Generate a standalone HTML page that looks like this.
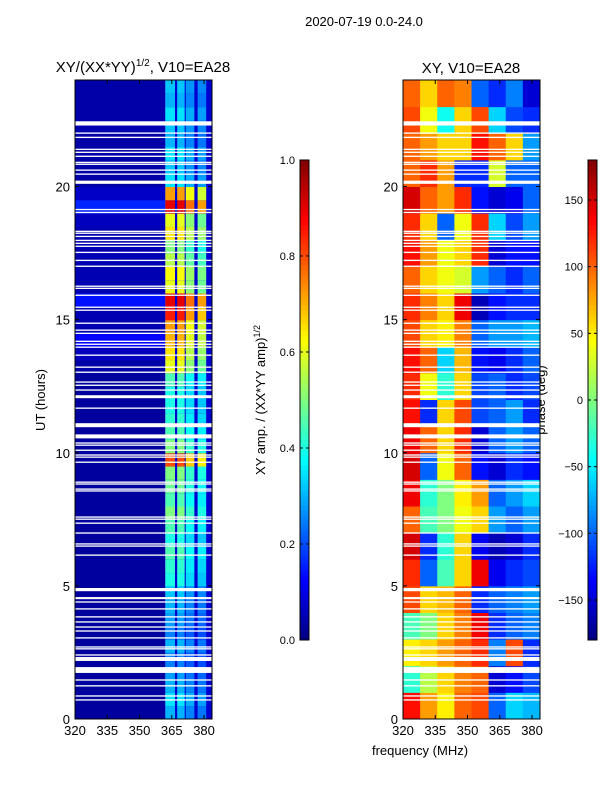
<!DOCTYPE html>
<html><head><meta charset="utf-8"><style>
body{margin:0;background:#fff;}
svg{display:block;font-family:"Liberation Sans","DejaVu Sans",sans-serif;}
</style></head><body>
<svg id="fig" width="600" height="800" viewBox="0 0 600 800" xmlns="http://www.w3.org/2000/svg">
<text x="364" y="26" font-size="13" text-anchor="middle">2020-07-19 0.0-24.0</text>
<text x="143" y="72" font-size="15" text-anchor="middle">XY/(XX*YY)<tspan font-size="10" dy="-6">1/2</tspan><tspan dy="6">, V10=EA28</tspan></text>
<text x="471" y="73" font-size="15" text-anchor="middle">XY, V10=EA28</text>
<text transform="translate(45,400) rotate(-90)" font-size="13" text-anchor="middle">UT (hours)</text>
<text x="420" y="755" font-size="13" text-anchor="middle">frequency (MHz)</text>
<text transform="translate(265,400) rotate(-90)" font-size="13" text-anchor="middle">XY amp. / (XX*YY amp)<tspan font-size="9" dy="-5">1/2</tspan></text>
<text transform="translate(545,400) rotate(-90)" font-size="13" text-anchor="middle">phase (deg)</text>
<g id="gL"></g><g id="gR"></g><g id="gC"></g>
</svg>
<script>
const NS="http://www.w3.org/2000/svg";
// ---- data ----
const yTicks=[0,5,10,15,20];
const xTicks=[320,335,350,365,380];
const ampTicks=[0.0,0.2,0.4,0.6,0.8,1.0];
const phaseTicks=[-150,-100,-50,0,50,100,150];
// sub-band frequency edges (MHz) for amplitude panel
const bandStart=[362,367.5,371.5,377];
const bandEnd=[366.5,371,375.5,381];
const bandScale=[1.0,1.0,0.85,0.8];
// half-hour band amplitudes, index 0 = 0.0-0.5 h
const ampRow=[0.3,0.35,0.3,0.28,0.25,0.3,0.25,0.28,0.3,0.32,0.4,0.42,0.45,0.4,0.45,0.5,0.45,0.48,0.5,0.8,0.5,0.45,0.42,0.4,0.4,0.45,0.6,0.65,0.7,0.72,0.85,0.9,0.6,0.62,0.55,0.5,0.65,0.6,0.9,0.72,0.35,0.32,0.35,0.3,0.32,0.35,0.3,0.32];
// half-hour amplitudes for low-frequency part (320-362 MHz)
const leftRow=[0.03,0.03,0.03,0.03,0.03,0.03,0.03,0.03,0.03,0.03,0.03,0.03,0.03,0.03,0.03,0.03,0.03,0.03,0.03,0.03,0.03,0.03,0.03,0.03,0.03,0.03,0.04,0.06,0.12,0.05,0.05,0.14,0.05,0.05,0.05,0.05,0.05,0.06,0.16,0.07,0.04,0.04,0.04,0.04,0.05,0.04,0.04,0.04];
// hourly phase (deg), 8 frequency slices, index 0 = 0-1 h
const phaseGrid=[
[130,80,50,100,110,-100,-60,-70],
[-30,20,60,90,100,-150,-130,-110],
[50,60,80,100,120,-90,110,-120],
[-20,0,60,90,140,-120,-100,-90],
[110,60,70,100,-120,-100,-90,-80],
[120,-100,-20,60,140,-140,-120,-110],
[150,-120,-30,60,-140,-160,-150,-120],
[100,-20,0,40,60,-80,-100,-80],
[140,-30,0,50,80,-100,-80,-60],
[150,-100,40,100,-130,-150,-120,-130],
[140,100,60,120,-150,-100,-80,-100],
[130,-120,60,110,-110,-100,-80,-120],
[120,40,-30,60,-110,-100,-120,-110],
[130,100,-60,70,-130,-140,-120,-100],
[110,60,50,90,-100,-80,-80,-70],
[120,90,60,140,-160,-130,-120,-120],
[100,60,40,30,-80,-100,-120,-100],
[130,80,40,60,120,-150,-130,-130],
[120,60,-100,40,120,-60,-110,-80],
[150,100,80,120,-130,-150,-140,-100],
[100,120,80,-120,-120,30,-100,-100],
[100,80,60,60,130,100,60,-80],
[110,40,-40,60,110,-60,-110,-120],
[100,60,100,90,-100,-120,-90,-150]];
// flagged time ranges (hours)
const gapStart=[22.29,21.98,21.82,21.37,21.26,21.11,20.88,20.81,20.59,20.44,20.10,19.11,19.0,18.29,18.22,18.1,17.95,17.84,17.73,17.5,17.2,16.98,16.23,16.15,15.89,15.44,15.33,14.84,14.58,14.46,14.16,14.05,13.94,13.64,13.19,13.0,12.63,12.51,12.33,12.05,11.65,10.96,10.54,10.34,10.26,10.07,9.89,9.81,9.62,8.87,8.8,8.61,8.54,7.56,7.48,7.33,6.96,6.55,6.47,6.13,4.8,4.5,4.37,4.11,3.81,3.62,3.43,3.28,3.02,2.68,2.61,2.38,2.18,1.73,1.44,1.22,0.84,0.69];
const gapEnd=[22.45,22.03,21.87,21.42,21.31,21.16,20.93,20.86,20.64,20.49,20.22,19.16,19.05,18.34,18.27,18.15,18.0,17.89,17.78,17.55,17.25,17.03,16.28,16.2,15.94,15.49,15.38,14.89,14.63,14.51,14.21,14.1,13.99,13.69,13.24,13.05,12.68,12.56,12.38,12.16,11.7,11.11,10.69,10.39,10.31,10.12,9.94,9.86,9.67,8.92,8.85,8.66,8.59,7.61,7.53,7.38,7.01,6.6,6.52,6.18,4.92,4.58,4.42,4.16,3.86,3.67,3.48,3.33,3.07,2.73,2.66,2.43,2.33,1.95,1.49,1.27,0.89,0.74];
// ---- helpers ----
function jet(v){v=Math.max(0,Math.min(1,v));
 const r=Math.max(0,Math.min(1,1.5-Math.abs(4*v-3)));
 const g=Math.max(0,Math.min(1,1.5-Math.abs(4*v-2)));
 const b=Math.max(0,Math.min(1,1.5-Math.abs(4*v-1)));
 return `rgb(${Math.round(r*255)},${Math.round(g*255)},${Math.round(b*255)})`;}
function el(tag,attrs,parent){const e=document.createElementNS(NS,tag);for(const k in attrs)e.setAttribute(k,attrs[k]);parent.appendChild(e);return e;}
const T0=719,T1=80,FMIN=320,FMAX=383.7;
const yS=h=>T0-(h/24)*(T0-T1);
function mkX(x0,x1){return f=>x0+(f-FMIN)/(FMAX-FMIN)*(x1-x0);}
const xL=mkX(75,212), xR=mkX(403,540);

function axes(g,x0,x1,xs,name){
 for(let i=0;i<gapStart.length;i++){
  const r=el('rect',{x:x0,y:yS(gapEnd[i]),width:x1-x0,height:Math.max(1,yS(gapStart[i])-yS(gapEnd[i])),fill:'#fff'},g);
  
  
 }
 const fr=el('rect',{x:x0,y:T1,width:x1-x0,height:T0-T1,fill:'none',stroke:'#000','stroke-width':1},g);
 
 
 yTicks.forEach(t=>{const y=yS(t);
  el('line',{x1:x0,x2:x0+4,y1:y,y2:y,stroke:'#000'},g);el('line',{x1:x1,x2:x1-4,y1:y,y2:y,stroke:'#000'},g);
  const tx=el('text',{x:x0-5,y:y+5,'font-size':13,'text-anchor':'end'},g);tx.textContent=t;
  
  });
 xTicks.forEach(t=>{const x=xs(t);
  el('line',{x1:x,x2:x,y1:T0,y2:T0-4,stroke:'#000'},g);el('line',{x1:x,x2:x,y1:T1,y2:T1+4,stroke:'#000'},g);
  const tx=el('text',{x:x,y:T0+16,'font-size':13,'text-anchor':'middle'},g);tx.textContent=t;
  
  });
}
// ---- amplitude panel ----
const gL=document.getElementById('gL');
for(let i=0;i<ampRow.length;i++){
 const y=yS((i+1)/2),h=yS(i/2)-y;
 const c=el('rect',{x:xL(FMIN),y:y,width:xL(362)-xL(FMIN),height:h+0.5,fill:jet(leftRow[i])},gL);
 
 
 const c2=el('rect',{x:xL(362),y:y,width:xL(FMAX)-xL(362),height:h+0.5,fill:jet(0.08)},gL);
 
 
 for(let b=0;b<bandStart.length;b++){
  const c3=el('rect',{x:xL(bandStart[b]),y:y,width:xL(bandEnd[b])-xL(bandStart[b]),height:h+0.5,fill:jet(ampRow[i]*bandScale[b])},gL);
  
  
 }
}
axes(gL,75,212,xL,'amp-panel');
// ---- phase panel ----
const gR=document.getElementById('gR');
const nC=phaseGrid[0].length, df=(FMAX-FMIN)/nC;
phaseGrid.forEach((row,i)=>{row.forEach((p,j)=>{
 const x=xR(FMIN+j*df),y=yS(i+1);
 const c=el('rect',{x:x,y:y,width:xR(FMIN+(j+1)*df)-x+0.5,height:yS(i)-y+0.5,fill:jet((p+180)/360)},gR);
 
 
});});
axes(gR,403,540,xR,'phase-panel');
// ---- colorbars ----
const gC=document.getElementById('gC');
function cbar(x,name,vmin,vmax,ticks,fmt){
 const top=160,bot=640,w=9;
 for(let k=0;k<96;k++){
  const r=el('rect',{x:x,y:bot-(k+1)*5,width:w,height:5.5,fill:jet((k+0.5)/96)},gC);
  
  
 }
 const f=el('rect',{x:x,y:top,width:w,height:bot-top,fill:'none',stroke:'#000'},gC);
 
 
 ticks.forEach(t=>{const y=bot-(t-vmin)/(vmax-vmin)*(bot-top);
  el('line',{x1:x,x2:x+3,y1:y,y2:y,stroke:'#000'},gC);el('line',{x1:x+w,x2:x+w-3,y1:y,y2:y,stroke:'#000'},gC);
  const tx=el('text',{x:x-5,y:y+4,'font-size':11,'text-anchor':'end'},gC);tx.textContent=fmt(t);
  
  });
}
cbar(300,'amp-colorbar',0,1,ampTicks,t=>t.toFixed(1));
cbar(588,'phase-colorbar',-180,180,phaseTicks,t=>t<0?'\u2212'+(-t):String(t));
</script>
</body></html>
